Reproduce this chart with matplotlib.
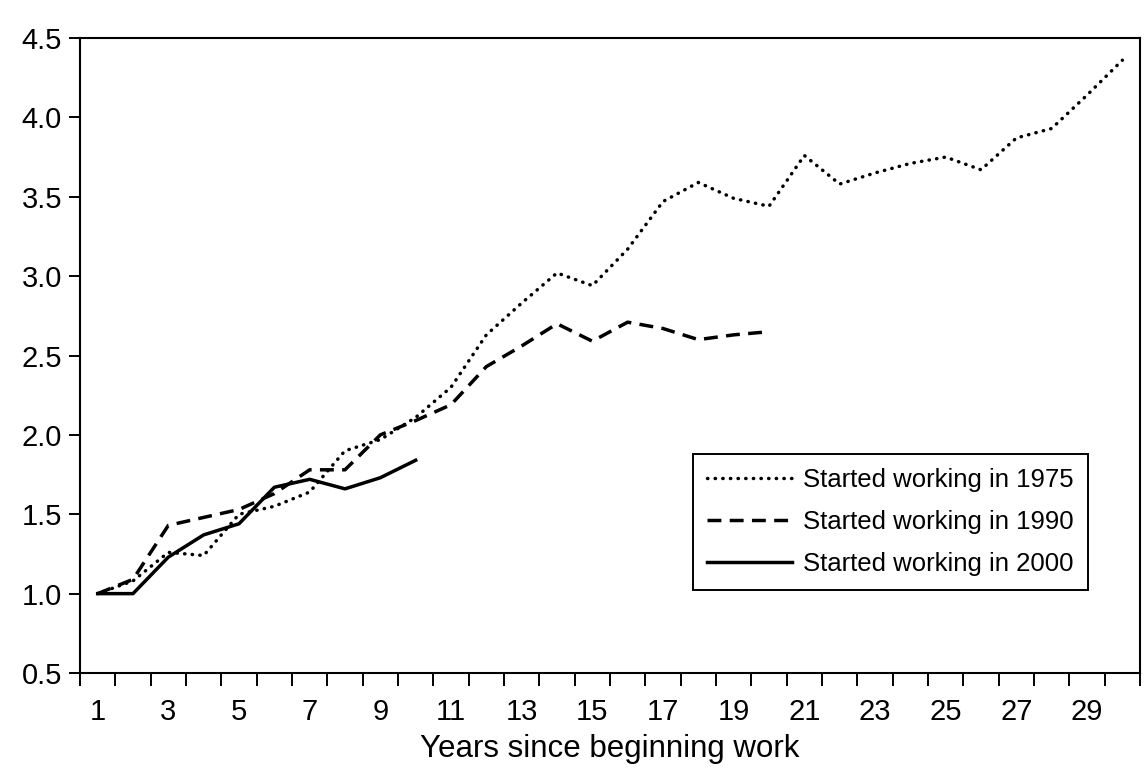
import matplotlib
matplotlib.use("Agg")
import matplotlib.pyplot as plt
import numpy as np

plt.rcParams["font.family"] = ["Liberation Sans", "DejaVu Sans"]

# ── Data (earnings relative to first year) ──────────────────
years_1975 = list(range(1, 31))
started_1975 = [1.00, 1.08, 1.26, 1.24, 1.50, 1.55, 1.64, 1.90, 1.97, 2.11,
                2.30, 2.63, 2.83, 3.02, 2.94, 3.17, 3.47, 3.59, 3.49, 3.44,
                3.76, 3.58, 3.65, 3.71, 3.75, 3.67, 3.87, 3.93, 4.14, 4.36]

years_1990 = list(range(1, 21))
started_1990 = [1.00, 1.09, 1.43, 1.48, 1.53, 1.63, 1.78, 1.78, 2.00, 2.09,
                2.19, 2.43, 2.56, 2.70, 2.59, 2.71, 2.67, 2.60, 2.63, 2.65]

years_2000 = list(range(1, 11))
started_2000 = [1.00, 1.00, 1.23, 1.37, 1.44, 1.67, 1.72, 1.66, 1.73, 1.84]

labels = ["Started working in 1975", "Started working in 1990",
          "Started working in 2000"]

# ── Figure ──────────────────────────────────────────────────
fig = plt.figure(figsize=(11.47, 7.78), dpi=100)
ax = fig.add_axes([80 / 1147, 1 - 673 / 778, 1060 / 1147, 635 / 778])

lw = 2.5
ax.plot(years_1975, started_1975, color="black", lw=lw,
        linestyle=(0, (0.1, 2.1)), dash_capstyle="round", label=labels[0])
ax.plot(years_1990, started_1990, color="black", lw=lw,
        linestyle=(0, (4.0, 2.4)), label=labels[1])
ax.plot(years_2000, started_2000, color="black", lw=lw,
        linestyle="-", label=labels[2])

ax.set_xlim(0.5, 30.5)
ax.set_ylim(0.5, 4.5)

# category-style x axis: labels at odd years, ticks between categories
ax.set_xticks(np.arange(1, 30, 2))
ax.set_xticklabels([str(v) for v in range(1, 30, 2)])
ax.set_xticks(np.arange(0.5, 31, 1), minor=True)
ax.tick_params(axis="x", which="major", length=0, pad=18, labelsize=21)
ax.tick_params(axis="x", which="minor", length=9, width=1.4, direction="out")

ax.set_yticks(np.arange(0.5, 4.51, 0.5))
ax.set_yticklabels([f"{v:.1f}" for v in np.arange(0.5, 4.51, 0.5)])
ax.tick_params(axis="y", length=8, width=1.4, pad=5, labelsize=21)

for s in ax.spines.values():
    s.set_linewidth(1.5)
    s.set_color("black")

ax.set_xlabel("Years since beginning work", fontsize=22.5, labelpad=6)

leg = ax.legend(loc="upper left", bbox_to_anchor=(0.578, 0.345),
                borderaxespad=0, fontsize=18.5, frameon=True, fancybox=False,
                handlelength=3.3, handletextpad=0.45, borderpad=0.55,
                labelspacing=0.7)
leg.get_frame().set_edgecolor("black")
leg.get_frame().set_linewidth(1.4)
leg.get_frame().set_alpha(1)

fig.patch.set_facecolor("white")
plt.savefig("out.png", dpi=100, facecolor="white")
